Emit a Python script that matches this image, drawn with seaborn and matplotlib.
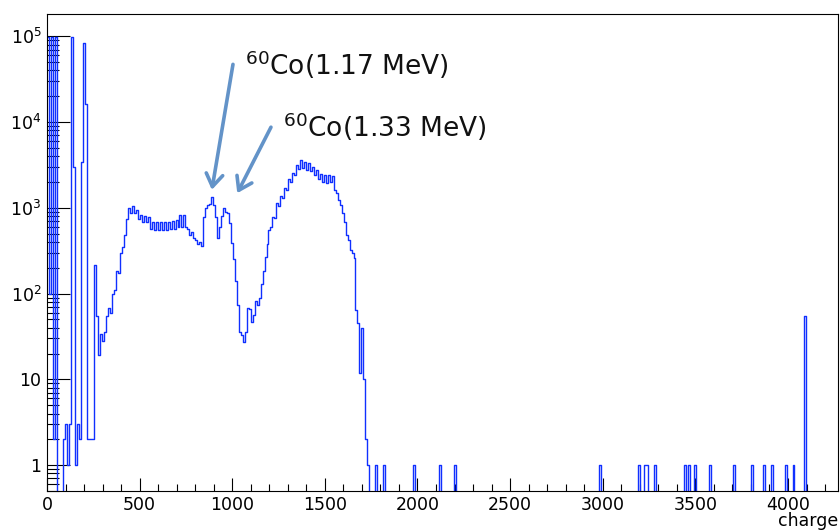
import numpy as np
import pandas as pd
import matplotlib
matplotlib.use("Agg")
import matplotlib.pyplot as plt
import seaborn as sns
from matplotlib.ticker import MultipleLocator, LogLocator, NullFormatter

# ---------------- data ----------------
n_bins = 400
charge_max = 4270

# counts per bin for the populated low-charge region (bins 0..162)
low_counts = [
    98000, 100, 98000, 2, 98000, 0, 0, 0, 2, 3, 1, 3, 98000, 3000, 1, 3, 2,
    3400, 83000, 16000, 2, 2, 2, 2, 215, 55,
    19, 34, 28, 36, 55, 68, 60, 100, 110, 185, 175, 300, 350, 480, 750, 1000,
    870, 1050, 880, 950, 740, 820, 690, 810, 690, 780, 560, 690, 550, 690,
    550, 690, 550, 690, 550, 690, 560, 700, 560, 720, 600, 830, 600, 830,
    600, 560, 480, 520, 440, 420, 380, 400, 355, 790, 1000, 1080, 1100, 1350,
    1080, 790, 450, 600, 800, 1000, 900, 870, 660, 390, 250, 140, 74, 36, 33,
    27, 36, 68, 66, 47, 57, 82, 74, 90, 128, 185, 270, 380, 550, 600, 790,
    760, 1130, 1050, 1360, 1300, 1700, 1600, 2140, 2000, 2560, 2400, 3150,
    2850, 3600, 2900, 3400, 2750, 3300, 2650, 3000, 2400, 2750, 2150, 2450,
    2000, 2400, 1950, 2400, 2000, 2350, 1600, 1480, 1230, 1080, 870, 690,
    480, 420, 320, 300, 260, 65, 45, 12, 40, 10, 2, 1,
]

# isolated high-charge entries
sparse_charge = [1775, 1820, 1982, 2122, 2203, 2982, 3197, 3226, 3240, 3279,
                 3440, 3465, 3494, 3585, 3711, 3810, 3872, 3916, 3990, 4030,
                 4093]
sparse_counts = [1, 1, 1, 1, 1, 1, 1, 1, 1, 1,
                 1, 1, 1, 1, 1, 1, 1, 1, 1, 1,
                 55]

xtick_values = [0, 500, 1000, 1500, 2000, 2500, 3000, 3500, 4000]
ytick_values = [1, 10, 100, 1000, 10000, 100000]
ytick_labels = ["1", "10", r"$10^{2}$", r"$10^{3}$", r"$10^{4}$", r"$10^{5}$"]
x_label = "charge"
peak_labels = [r"$^{60}$Co(1.17 MeV)", r"$^{60}$Co(1.33 MeV)"]

# ---------------- build histogram table ----------------
edges = np.linspace(0, charge_max, n_bins + 1)
width = edges[1] - edges[0]
counts = np.zeros(n_bins)
counts[:len(low_counts)] = low_counts
for pos, c in zip(sparse_charge, sparse_counts):
    counts[int(pos // width)] += c
centers = 0.5 * (edges[:-1] + edges[1:])
df = pd.DataFrame({"charge": centers, "counts": counts})

# ---------------- style ----------------
plt.rcParams["font.family"] = ["DejaVu Sans"]
plt.rcParams["mathtext.fontset"] = "dejavusans"

fig = plt.figure(figsize=(8.4, 5.31), dpi=100)
ax = fig.add_axes([47 / 840, 40 / 531, 791 / 840, 477.5 / 531])

sns.histplot(data=df, x="charge", weights="counts", bins=list(edges),
             element="step", fill=False, color="#1030ff", linewidth=1.0,
             ax=ax)

ax.set_yscale("log")
ax.set_xlim(0, charge_max)
ax.set_ylim(0.5, 1.84e5)

ax.set_xticks(xtick_values)
ax.set_xticklabels([str(v) for v in xtick_values])
ax.xaxis.set_minor_locator(MultipleLocator(100))
ax.set_yticks(ytick_values)
ax.set_yticklabels(ytick_labels)
ax.yaxis.set_minor_locator(LogLocator(base=10, subs=np.arange(2, 10), numticks=50))
ax.yaxis.set_minor_formatter(NullFormatter())

ax.tick_params(axis="both", which="both", direction="in", top=False,
               right=False, labelsize=12.5, width=0.8, color="black")
ax.tick_params(axis="x", which="major", length=9.4, pad=3.5)
ax.tick_params(axis="x", which="minor", length=4.7)
ax.tick_params(axis="y", which="major", length=16.8, pad=4)
ax.tick_params(axis="y", which="minor", length=8.4)

for s in ax.spines.values():
    s.set_linewidth(0.8)
    s.set_color("black")

ax.set_ylabel("")
ax.set_xlabel(x_label, loc="right", fontsize=12.5, labelpad=-1.5)

# ---------------- annotations ----------------
arrow_color = "#6393c8"
arrow_kw = dict(arrowstyle="->,head_length=0.45,head_width=0.3",
                color=arrow_color, lw=2.6, mutation_scale=20,
                shrinkA=0, shrinkB=0)
ax.annotate("", xy=(890, 1620), xytext=(1004, 4.7e4), arrowprops=arrow_kw)
ax.annotate("", xy=(1027, 1480), xytext=(1209, 8700), arrowprops=arrow_kw)

ax.text(1069, 3.5e4, peak_labels[0], fontsize=19, va="baseline", ha="left",
        color="#111111")
ax.text(1274, 6700, peak_labels[1], fontsize=19, va="baseline", ha="left",
        color="#111111")

fig.savefig("out.png", dpi=100)
